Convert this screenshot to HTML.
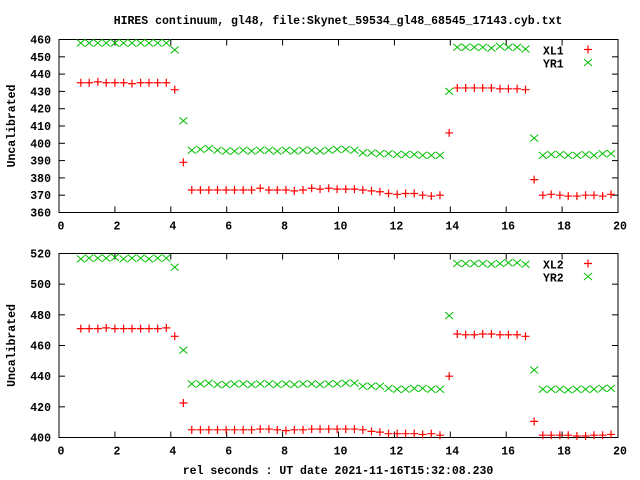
<!DOCTYPE html>
<html><head><meta charset="utf-8"><style>
html,body{margin:0;padding:0;background:#fff;}
svg{display:block;}
text{font-family:"Liberation Mono","DejaVu Sans Mono",monospace;font-size:11.5px;font-weight:bold;fill:#000;}
</style></head><body>
<svg id="c" width="640" height="480" viewBox="0 0 640 480" xmlns="http://www.w3.org/2000/svg">
<text x="338" y="24" text-anchor="middle">HIRES continuum, gl48, file:Skynet_59534_gl48_68545_17143.cyb.txt</text>
<text x="338" y="474" text-anchor="middle">rel seconds : UT date 2021-11-16T15:32:08.230</text>
</svg>
<script>
const xVals=[0.78,1.08,1.39,1.69,2.00,2.31,2.61,2.92,3.22,3.53,3.84,4.14,4.45,4.75,5.06,5.36,5.67,5.98,6.28,6.59,6.89,7.20,7.51,7.81,8.12,8.42,8.73,9.04,9.34,9.65,9.95,10.26,10.57,10.87,11.18,11.48,11.79,12.10,12.40,12.71,13.01,13.32,13.63,13.96,14.25,14.55,14.86,15.16,15.47,15.78,16.08,16.39,16.69,17.00,17.31,17.61,17.92,18.22,18.53,18.84,19.14,19.45,19.75];
const xl1=[435,435,435.5,435,435,435,434.5,435,435,435,435,431,389,373,373,373,373,373,373,373,373,374,373,373,373,372.5,373,374,373.5,374,373.5,373.5,373.5,373,372.5,372,371,370.5,371,371,370,369.5,370,406,432,432,432,432,432,431.5,431.5,431.5,431,379,370,370.5,370,369.5,369.5,370,370,369.5,370.5];
const yr1=[458,458,458,458,458,458,458,458,458,458,458,454,413,396,396.5,397,396,395.5,395.5,396,395.5,396,396,395.5,396,395.5,396,396,395.5,396,396.5,396.5,396,394.5,394.5,394,394,393.5,393.5,393.5,393,393,393,430,455.5,455.5,455.5,455.5,455,456,455.5,455.5,454.5,403,393,393.5,393.5,393,393,393.5,393,394,394];
const xl2=[471,471,471,471.5,471,471,471,471,471,471,471.5,466,422.5,405,405,405,405,405,405,405,405,405.5,405.5,405,404.5,405,405,405.5,405.5,405.5,405.5,405.5,405.5,405,404,403.5,402.5,402.5,402.5,402.5,402,402.5,401.5,440,467.5,467,467,467.5,467.5,467,467,467,466,410.5,401.5,401.5,401.5,401.5,401,401,401.5,401.5,402];
const yr2=[516.5,517,517,517,517.5,516.5,517,517,516.5,517,517,511,457,435,435,435.5,434.5,434.5,435,435,434.5,435,435,434.5,435,434.5,435,435,434.5,435,435,435.5,435.5,433.5,433.5,433.5,432,431.5,431.5,432,432,431.5,431.5,479.5,513.5,513.5,513.5,513.5,513,513.5,514,514,513,444,431.5,431.5,431.5,431,431.5,431.5,431.5,432,432];
const xTicks=[0,2,4,6,8,10,12,14,16,18,20];
const yTicks1=[360,370,380,390,400,410,420,430,440,450,460];
const yTicks2=[400,420,440,460,480,500,520];

const NS="http://www.w3.org/2000/svg";
const svg=document.getElementById('c');
function mk(tag,attrs,parent){const e=document.createElementNS(NS,tag);for(const k in attrs)e.setAttribute(k,attrs[k]);(parent||svg).appendChild(e);return e;}

function panel(cfg){
  const L=59,R=618,T=cfg.top,B=cfg.bottom;
  const sx=v=>L+(v-0)/(20-0)*(R-L);
  const sy=v=>B-(v-cfg.ymin)/(cfg.ymax-cfg.ymin)*(B-T);
  const g=mk('g',{});
  
  
  xTicks.forEach(t=>{
    const x=sx(t);
    const l1=mk('line',{x1:x,y1:B,x2:x,y2:B-6,stroke:'#000','stroke-width':1},g);
    
    
    mk('line',{x1:x,y1:T,x2:x,y2:T+6,stroke:'#000','stroke-width':1},g);
    const tx=mk('text',{x:x+2,y:B+17,'text-anchor':'middle'},g);
    tx.textContent=t;
    
    
  });
  cfg.yt.forEach(t=>{
    const y=sy(t);
    const l1=mk('line',{x1:L,y1:y,x2:L+6,y2:y,stroke:'#000','stroke-width':1},g);
    
    
    mk('line',{x1:R,y1:y,x2:R-6,y2:y,stroke:'#000','stroke-width':1},g);
    const tx=mk('text',{x:51,y:y+4,'text-anchor':'end'},g);
    tx.textContent=t;
    
    
  });
  const frame=mk('rect',{x:L,y:T,width:R-L,height:B-T,fill:'none',stroke:'#000','stroke-width':1},g);
  
  
  const yl=mk('text',{x:0,y:0,'text-anchor':'middle',transform:`translate(15,${(T+B)/2}) rotate(-90)`},g);
  yl.textContent='Uncalibrated';
  
  
  function plus(x,y,parent){const p=mk('path',{d:`M${x-4},${y}H${x+4}M${x},${y-4}V${y+4}`,stroke:'#ff0000','stroke-width':1.2,fill:'none'},parent);return p;}
  function cross(x,y,parent){const p=mk('path',{d:`M${x-4},${y-3.5}L${x+4},${y+3.5}M${x-4},${y+3.5}L${x+4},${y-3.5}`,stroke:'#00c000','stroke-width':1,fill:'none'},parent);return p;}
  const s1=mk('g',{},g);
  
  
  const s2=mk('g',{},g);
  
  
  xVals.forEach((xv,i)=>{
    const p=plus(sx(xv),sy(cfg.a[i]),s1);
    
    
    const q=cross(sx(xv),sy(cfg.b[i]),s2);
    
    
  });
  const lg=mk('g',{},g);
  
  
  const t1=mk('text',{x:543,y:T+15},lg);t1.textContent=cfg.label1;
  
  
  plus(588,T+10,lg);
  const t2=mk('text',{x:543,y:T+28},lg);t2.textContent=cfg.label2;
  
  
  cross(588,T+23,lg);
}
panel({name:'top-panel',top:39.5,bottom:212.5,ymin:360,ymax:460,yt:yTicks1,a:xl1,b:yr1,n1:'xl1',n2:'yr1',label1:'XL1',label2:'YR1'});
panel({name:'bottom-panel',top:253.5,bottom:437.5,ymin:400,ymax:520,yt:yTicks2,a:xl2,b:yr2,n1:'xl2',n2:'yr2',label1:'XL2',label2:'YR2'});
</script>
</body></html>
